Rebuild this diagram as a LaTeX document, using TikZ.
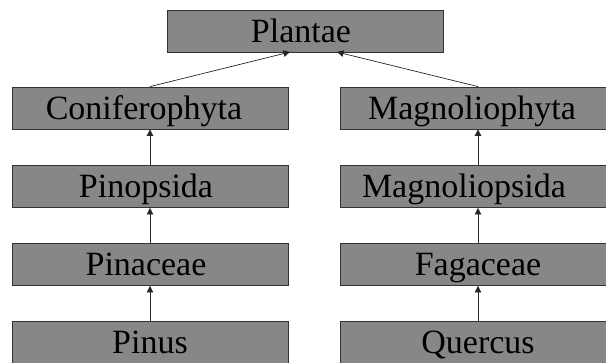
\documentclass[tikz,border=0pt]{standalone}
\usepackage{fontspec}
\setmainfont{Liberation Serif}
\newfontfamily\taxfont{Liberation Serif}
\usetikzlibrary{arrows.meta}
\begin{document}
\begin{tikzpicture}[x=1pt,y=-1pt,
  taxbox/.style={draw=black!80,line width=0.8pt,fill=black!47,minimum width=276pt,minimum height=42pt,inner sep=0pt,text height=26pt,text depth=4pt,font=\taxfont\fontsize{34}{36}\selectfont,text=black},
  link/.style={draw=black!85,line width=0.7pt,-{Triangle[length=6.5pt,width=6.5pt]}}]
\useasboundingbox (0,0) rectangle (606,362);
\clip (0,0) rectangle (606,362);
\fill[white] (0,0) rectangle (606,362);
\node[taxbox] (plantae) at (305,31) {\hspace*{-8pt}Plantae};
\node[taxbox] (conif) at (150,108) {\hspace*{-12pt}Coniferophyta};
\node[taxbox] (pinops) at (150,186.5) {\hspace*{-8pt}Pinopsida};
\node[taxbox] (pinac) at (150,264.5) {\hspace*{-8pt}Pinaceae};
\node[taxbox] (pinus) at (150,342) {Pinus};
\node[taxbox] (magnphy) at (478,108) {\hspace*{-12pt}Magnoliophyta};
\node[taxbox] (magnops) at (478,186.5) {\hspace*{-28pt}Magnoliopsida};
\node[taxbox] (fagac) at (478,264.5) {Fagaceae};
\node[taxbox] (quercus) at (478,342) {Quercus};
\coordinate (pl1) at (290,52);
\coordinate (pl2) at (337,52);
\draw[link] (conif.north) -- (pl1);
\draw[link] (magnphy.north) -- (pl2);
\draw[link] (pinops) -- (conif);
\draw[link] (pinac) -- (pinops);
\draw[link] (pinus) -- (pinac);
\draw[link] (magnops) -- (magnphy);
\draw[link] (fagac) -- (magnops);
\draw[link] (quercus) -- (fagac);
\end{tikzpicture}
\end{document}
